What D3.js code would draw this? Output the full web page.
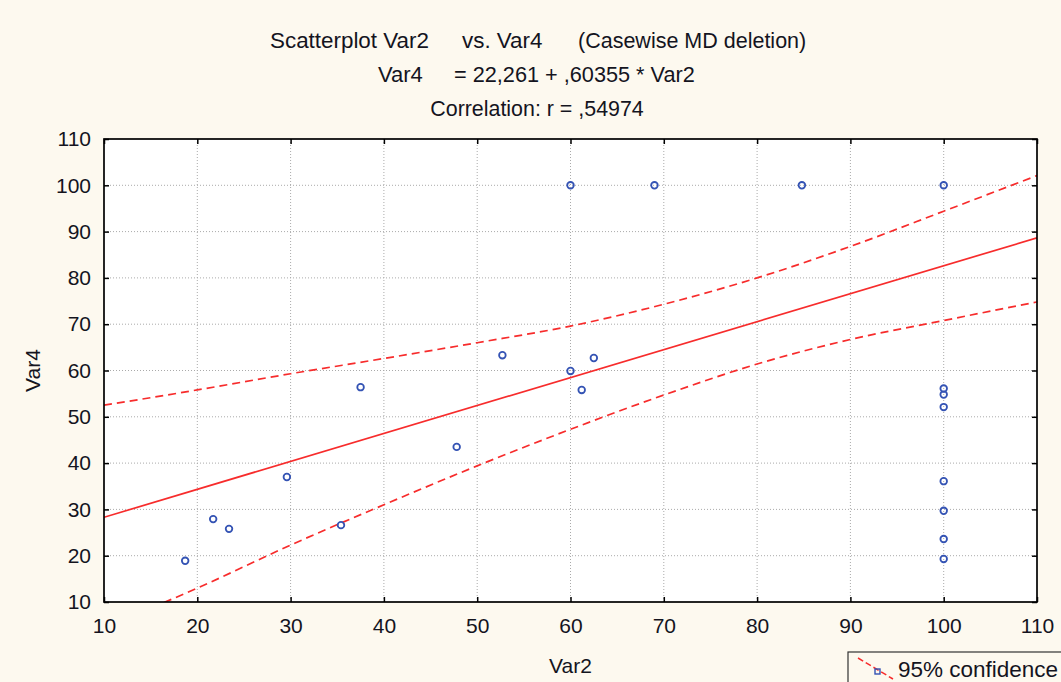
<!DOCTYPE html>
<html lang="en">
<head>
  <meta charset="utf-8">
  <script src="https://d3js.org/d3.v7.min.js"></script>
  <style>
    body { margin: 0; background: #fdf9ef; }
    text { font-family: "Liberation Sans", Arial, sans-serif; fill: #14141e; }
  </style>
</head>
<body>
<div id="chart"></div>
<script>

// data
var var2 = [18.7, 21.7, 23.4, 29.6, 35.4, 37.5, 47.8, 52.7, 60.0, 60.0, 61.2, 62.5,
            69.0, 84.8, 100, 100, 100, 100, 100, 100, 100, 100];
var var4 = [18.9, 27.9, 25.8, 37.0, 26.6, 56.4, 43.5, 63.3, 100, 59.9, 55.8, 62.7,
            100, 100, 100, 56.1, 54.8, 52.1, 36.1, 29.7, 23.6, 19.3];

// regression (from the title)
var intercept = 22.261, slope = 0.60355;

// 95% confidence band, read at the x ticks
var bandX   = [10, 20, 30, 40, 50, 60, 70, 80, 90, 100, 110];
var upperCI = [52.5, 55.8, 59.3, 62.6, 66.0, 69.6, 74.3, 80.0, 86.8, 94.4, 102.1];
var lowerCI = [4.5, 13.0, 22.3, 31.0, 39.4, 47.3, 54.7, 61.4, 66.7, 70.8, 74.8];

var xTicks = [10, 20, 30, 40, 50, 60, 70, 80, 90, 100, 110];
var yTicks = [10, 20, 30, 40, 50, 60, 70, 80, 90, 100, 110];

var W = 1061, H = 682;
var margin = {top: 139, right: 24, bottom: 80, left: 104};
var width = W - margin.left - margin.right,
    height = H - margin.top - margin.bottom;

var svg = d3.select("#chart").append("svg")
  .attr("width", W)
  .attr("height", H);

svg.append("rect").attr("width", W).attr("height", H).attr("fill", "#fdf9ef");

var g = svg.append("g")
  .attr("transform", "translate(" + margin.left + "," + margin.top + ")");

var x = d3.scaleLinear().domain([10, 110]).range([0, width]);
var y = d3.scaleLinear().domain([10, 110]).range([height, 0]);

g.append("rect").attr("width", width).attr("height", height).attr("fill", "#ffffff");

g.append("clipPath").attr("id", "clip")
  .append("rect").attr("width", width).attr("height", height);

// grid
g.append("g")
  .selectAll("line")
  .data(xTicks.slice(1, -1))
  .enter().append("line")
    .attr("x1", function(d) { return x(d); })
    .attr("x2", function(d) { return x(d); })
    .attr("y1", 0).attr("y2", height)
    .attr("stroke", "#aaaaaa")
    .attr("stroke-dasharray", "1,2");

g.append("g")
  .selectAll("line")
  .data(yTicks.slice(1, -1))
  .enter().append("line")
    .attr("y1", function(d) { return y(d); })
    .attr("y2", function(d) { return y(d); })
    .attr("x1", 0).attr("x2", width)
    .attr("stroke", "#aaaaaa")
    .attr("stroke-dasharray", "1,2");

// fit line and confidence band
var plot = g.append("g").attr("clip-path", "url(#clip)");

plot.append("line")
  .attr("x1", x(10)).attr("y1", y(intercept + slope * 10))
  .attr("x2", x(110)).attr("y2", y(intercept + slope * 110))
  .attr("stroke", "#f72c2c")
  .attr("stroke-width", 1.7);

var band = d3.line()
  .x(function(d) { return x(d[0]); })
  .y(function(d) { return y(d[1]); })
  .curve(d3.curveMonotoneX);

[upperCI, lowerCI].forEach(function(arr) {
  plot.append("path")
    .datum(bandX.map(function(v, i) { return [v, arr[i]]; }))
    .attr("d", band)
    .attr("fill", "none")
    .attr("stroke", "#f72c2c")
    .attr("stroke-width", 1.7)
    .attr("stroke-dasharray", "8,5");
});

// points
g.append("g")
  .selectAll("circle")
  .data(var2)
  .enter().append("circle")
    .attr("cx", function(d) { return x(d); })
    .attr("cy", function(d, i) { return y(var4[i]); })
    .attr("r", 3.3)
    .attr("fill", "none")
    .attr("stroke", "#3453b4")
    .attr("stroke-width", 1.8);

// axes, ticks pointing inward
var tk = 5;
g.append("g")
  .attr("transform", "translate(0," + height + ")")
  .call(d3.axisBottom(x).tickValues(xTicks).tickSize(-tk).tickPadding(tk + 11))
  .call(styleAxis);
g.append("g")
  .call(d3.axisTop(x).tickValues(xTicks).tickSize(-tk).tickFormat(""))
  .call(styleAxis);
g.append("g")
  .call(d3.axisLeft(y).tickValues(yTicks).tickSize(-tk).tickPadding(tk + 8))
  .call(styleAxis);
g.append("g")
  .attr("transform", "translate(" + width + ",0)")
  .call(d3.axisRight(y).tickValues(yTicks).tickSize(-tk).tickFormat(""))
  .call(styleAxis);

function styleAxis(sel) {
  sel.select(".domain").remove();
  sel.selectAll("line").attr("stroke", "#000").attr("stroke-width", 1.5);
  sel.selectAll("text").style("font-size", "21px").attr("fill", "#14141e");
}

g.append("rect")
  .attr("width", width).attr("height", height)
  .attr("fill", "none")
  .attr("stroke", "#000")
  .attr("stroke-width", 1.7);

// titles
function label(txt, px, py, anchor, size) {
  return svg.append("text")
    .attr("x", px).attr("y", py)
    .attr("text-anchor", anchor || "start")
    .style("font-size", (size || 22) + "px")
    .text(txt);
}
label("Scatterplot Var2", 270, 48, "start", 22.4);
label("vs. Var4", 462, 48, "start", 22.4);
label("(Casewise MD deletion)", 578, 48, "start", 21.5);
label("Var4", 378, 82);
label("= 22,261 + ,60355 * Var2", 454, 82, "start", 21.7);
label("Correlation: r = ,54974", 537, 116, "middle", 21.4);

label("Var2", margin.left + width / 2, 673, "middle", 21);
svg.append("text")
  .attr("transform", "translate(40," + (margin.top + height / 2) + ") rotate(-90)")
  .attr("text-anchor", "middle")
  .style("font-size", "21px")
  .text("Var4");

// legend
var lg = svg.append("g").attr("transform", "translate(848,652)");
lg.append("rect")
  .attr("width", 240).attr("height", 40)
  .attr("fill", "#fdf9ef")
  .attr("stroke", "#333")
  .attr("stroke-width", 1.2);
lg.append("line")
  .attr("x1", 10).attr("y1", 6).attr("x2", 45).attr("y2", 27)
  .attr("stroke", "#f72c2c").attr("stroke-width", 1.5)
  .attr("stroke-dasharray", "6,3");
lg.append("rect")
  .attr("x", 27).attr("y", 17).attr("width", 5).attr("height", 5)
  .attr("fill", "none").attr("stroke", "#3453b4").attr("stroke-width", 1.4);
lg.append("text")
  .attr("x", 50).attr("y", 25)
  .style("font-size", "22.5px")
  .text("95% confidence");

</script>
</body>
</html>
